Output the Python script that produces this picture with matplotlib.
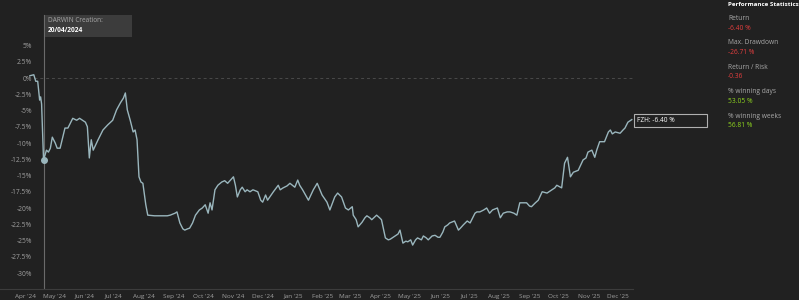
import matplotlib
matplotlib.use("Agg")
import matplotlib.pyplot as plt
import matplotlib.dates as mdates
from matplotlib.patches import Rectangle
import pandas as pd

plt.rcParams['font.family'] = ['Open Sans', 'DejaVu Sans']

# --- data (% return) ---
dates = [
    "2024-04-06", "2024-04-10", "2024-04-12", "2024-04-14", "2024-04-16", "2024-04-17",
    "2024-04-18", "2024-04-20", "2024-04-23", "2024-04-25", "2024-04-27", "2024-04-29",
    "2024-05-02", "2024-05-04", "2024-05-07", "2024-05-12", "2024-05-15", "2024-05-20",
    "2024-05-24", "2024-05-27", "2024-06-02", "2024-06-04", "2024-06-06", "2024-06-08",
    "2024-06-10", "2024-06-15", "2024-06-20", "2024-06-25", "2024-06-30", "2024-07-04",
    "2024-07-08", "2024-07-11", "2024-07-13", "2024-07-15", "2024-07-18", "2024-07-21",
    "2024-07-23", "2024-07-25", "2024-07-27", "2024-07-29", "2024-07-31", "2024-08-03",
    "2024-08-05", "2024-08-12", "2024-08-20", "2024-08-25", "2024-08-28", "2024-09-02",
    "2024-09-04", "2024-09-07", "2024-09-10", "2024-09-12", "2024-09-15", "2024-09-17",
    "2024-09-20", "2024-09-23", "2024-09-27", "2024-09-30", "2024-10-03", "2024-10-06",
    "2024-10-08", "2024-10-10", "2024-10-13", "2024-10-16", "2024-10-20", "2024-10-23",
    "2024-10-26", "2024-11-01", "2024-11-03", "2024-11-05", "2024-11-08", "2024-11-10",
    "2024-11-13", "2024-11-15", "2024-11-18", "2024-11-21", "2024-11-26", "2024-11-29",
    "2024-12-01", "2024-12-04", "2024-12-06", "2024-12-12", "2024-12-17", "2024-12-19",
    "2024-12-22", "2024-12-26", "2024-12-29", "2025-01-03", "2025-01-06", "2025-01-08",
    "2025-01-11", "2025-01-17", "2025-01-22", "2025-01-26", "2025-01-31", "2025-02-05",
    "2025-02-08", "2025-02-13", "2025-02-16", "2025-02-20", "2025-02-24", "2025-02-27",
    "2025-03-03", "2025-03-04", "2025-03-07", "2025-03-09", "2025-03-13", "2025-03-16",
    "2025-03-18", "2025-03-21", "2025-03-23", "2025-03-28", "2025-03-31", "2025-04-02",
    "2025-04-06", "2025-04-09", "2025-04-11", "2025-04-16", "2025-04-19", "2025-04-21",
    "2025-04-24", "2025-04-27", "2025-04-29", "2025-05-02", "2025-05-04", "2025-05-07",
    "2025-05-09", "2025-05-13", "2025-05-15", "2025-05-18", "2025-05-20", "2025-05-24",
    "2025-05-27", "2025-05-30", "2025-06-01", "2025-06-04", "2025-06-06", "2025-06-09",
    "2025-06-11", "2025-06-16", "2025-06-20", "2025-06-22", "2025-06-25", "2025-06-29",
    "2025-07-02", "2025-07-07", "2025-07-09", "2025-07-12", "2025-07-16", "2025-07-19",
    "2025-07-22", "2025-07-25", "2025-07-30", "2025-08-02", "2025-08-05", "2025-08-09",
    "2025-08-12", "2025-08-16", "2025-08-19", "2025-08-22", "2025-08-26", "2025-08-29",
    "2025-09-01", "2025-09-03", "2025-09-07", "2025-09-10", "2025-09-14", "2025-09-19",
    "2025-09-24", "2025-09-27", "2025-09-29", "2025-10-04", "2025-10-07", "2025-10-10",
    "2025-10-13", "2025-10-16", "2025-10-21", "2025-10-26", "2025-10-29", "2025-10-31",
    "2025-11-04", "2025-11-07", "2025-11-09", "2025-11-12", "2025-11-17", "2025-11-21",
    "2025-11-23", "2025-11-25", "2025-11-28", "2025-12-03", "2025-12-06", "2025-12-08",
    "2025-12-11", "2025-12-13", "2025-12-15",
]
returns = [
    0.35, 0.5, -0.5, -0.5, -3.4, -2.9,
    -4.0, -12.6, -11.1, -11.4, -10.8, -9.1,
    -10.0, -10.8, -10.8, -7.7, -7.7, -6.2,
    -6.5, -6.2, -6.8, -7.5, -12.3, -9.5,
    -11.1, -9.5, -8.0, -7.2, -6.5, -4.9,
    -3.8, -3.1, -2.3, -4.9, -6.5, -8.3,
    -8.0, -9.5, -15.2, -16.0, -16.2, -19.5,
    -21.1, -21.2, -21.2, -21.2, -21.1, -20.8,
    -20.6, -22.3, -23.2, -23.4, -23.2, -23.1,
    -22.3, -21.1, -20.3, -20.0, -19.5, -20.8,
    -19.2, -20.3, -17.2, -16.5, -16.0, -15.8,
    -16.2, -15.2, -16.5, -18.3, -17.2, -16.8,
    -17.5, -17.2, -17.5, -17.2, -17.5, -18.8,
    -19.1, -18.0, -18.8, -17.5, -16.5, -17.2,
    -16.9, -16.6, -16.2, -16.8, -15.7, -16.5,
    -17.2, -18.8, -17.2, -16.2, -18.0, -19.1,
    -20.3, -18.3, -17.7, -18.3, -20.0, -20.3,
    -19.8, -21.1, -21.8, -22.9, -22.2, -21.5,
    -21.2, -21.5, -21.8, -21.1, -21.5, -21.8,
    -24.6, -24.9, -24.8, -24.3, -24.0, -23.4,
    -25.4, -25.1, -25.2, -24.9, -25.7, -24.9,
    -24.6, -24.9, -24.3, -24.6, -24.9, -24.3,
    -24.2, -24.5, -24.5, -23.7, -22.9, -22.6,
    -22.3, -22.0, -23.4, -23.1, -22.6, -22.0,
    -22.3, -20.8, -20.6, -20.6, -20.3, -20.0,
    -20.8, -20.3, -20.0, -21.5, -20.8, -20.6,
    -20.6, -20.8, -21.1, -19.2, -19.2, -19.2,
    -19.7, -19.8, -19.2, -18.8, -17.5, -17.7,
    -17.2, -16.9, -16.5, -16.9, -13.1, -12.2,
    -15.2, -14.5, -14.2, -12.6, -12.3, -11.4,
    -11.1, -12.2, -11.1, -9.8, -9.8, -8.3,
    -8.0, -8.6, -8.3, -8.5, -8.0, -7.7,
    -6.8, -6.6, -6.4,
]
creation_date = "2024-04-20"
creation_value = -12.6
yticks = [5, 2.5, 0, -2.5, -5, -7.5, -10, -12.5, -15, -17.5, -20, -22.5, -25, -27.5, -30]
stat_names = ["Return", "Max. Drawdown", "Return / Risk", "% winning days", "% winning weeks"]
stat_values = ["-6.40 %", "-26.71 %", "-0.36", "53.05 %", "56.81 %"]
stat_good = [False, False, False, True, True]
last_label = "FZH: -6.40 %"

W, H = 799, 300
BG = "#212121"
LINE = "#9ab6bd"
TXT = "#a0a0a0"
FS = 4.8

fig = plt.figure(figsize=(W / 100, H / 100), dpi=100, facecolor=BG)
ax = fig.add_axes([0, 11 / H, 633 / W, 289 / H], facecolor=BG)

x = pd.to_datetime(dates)
ax.plot(x, returns, color=LINE, lw=1.0, zorder=3)

cd = pd.Timestamp(creation_date)
ax.plot([cd], [creation_value], "o", color=LINE, ms=4, zorder=4)
ax.axvline(cd, ymin=0, ymax=(289 - 15) / 289, color="#6a6a6a", lw=0.8, zorder=2)
ax.axhline(0, xmin=34 / 633, color="#4a4a4a", lw=0.7, ls=(0, (3, 3)), zorder=1)

ax.set_xlim(pd.Timestamp("2024-03-06 07:00"), pd.Timestamp("2025-12-16 06:00"))
ax.set_ylim(-32.46, 12.0)

ax.set_yticks(yticks)
ax.set_yticklabels([f"{t:g}%" for t in yticks])
ax.tick_params(axis="y", length=0, pad=-23.0, labelsize=FS, labelcolor=TXT)
ax.xaxis.set_major_locator(mdates.MonthLocator())
ax.xaxis.set_major_formatter(mdates.DateFormatter("%b '%y"))
ax.tick_params(axis="x", length=0, pad=3.4, labelsize=4.6, labelcolor=TXT)
for lbl in ax.get_yticklabels():
    lbl.set_horizontalalignment("right")

for s in ["top", "right", "left"]:
    ax.spines[s].set_visible(False)
ax.spines["bottom"].set_color("#3c3c3c")
ax.spines["bottom"].set_linewidth(0.8)


def fx(px):
    return px / W


def fy(py):
    return 1 - py / H


# creation box
fig.add_artist(Rectangle((fx(45), fy(37)), 87 / W, 22 / H, transform=fig.transFigure,
                         facecolor="#3c3c3c", edgecolor="none"))
fig.text(fx(48), fy(20), "DARWIN Creation:", color="#a8a8a8", fontsize=4.7, va="center")
fig.text(fx(48), fy(30), "20/04/2024", color="#ffffff", fontsize=4.7, va="center",
         fontweight="bold")

# last value label
fig.add_artist(Rectangle((fx(634), fy(127)), 73 / W, 13 / H, transform=fig.transFigure,
                         facecolor=BG, edgecolor="#b0b0b0", lw=0.8))
fig.text(fx(637), fy(121), last_label, color="#ffffff", fontsize=4.7, va="center")

# stats panel
fig.text(fx(728), fy(4), "Performance Statistics", color="#ffffff", fontsize=4.5,
         va="center", fontweight="bold")
for i, (name, val, good) in enumerate(zip(stat_names, stat_values, stat_good)):
    y0 = 18 + i * 24.5
    fig.text(fx(728), fy(y0), name, color="#a8a8a8", fontsize=FS, va="center")
    fig.text(fx(728), fy(y0 + 10), val, color="#8fd61f" if good else "#e53e3e",
             fontsize=FS, va="center")

fig.savefig("out.png", dpi=100, facecolor=BG)
